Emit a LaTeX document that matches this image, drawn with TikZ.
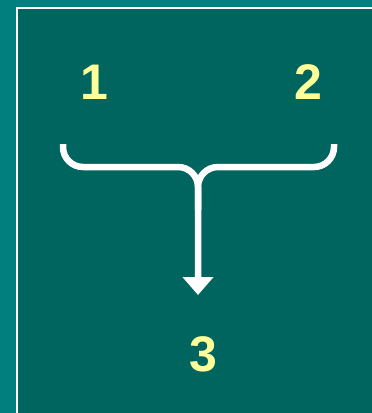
\documentclass[tikz,border=0pt]{standalone}
\usepackage{fontspec}
\setmainfont{Liberation Sans}
\usetikzlibrary{arrows.meta}
\definecolor{outerteal}{HTML}{007F7F}
\definecolor{innerteal}{HTML}{00645F}
\definecolor{numyellow}{HTML}{FFFF99}
\tikzset{
  num/.style={text=numyellow, font=\fontsize{50}{50}\selectfont\bfseries, inner sep=0pt, anchor=center},
  bracel/.style={draw=white, line width=6.5pt, rounded corners=20pt},
  tipped/.style={-{Triangle[length=18pt,width=30pt]}}
}
\begin{document}
\begin{tikzpicture}[x=1pt,y=-1pt]
\useasboundingbox (0,0) rectangle (372,413);
\fill[outerteal] (0,0) rectangle (372,413);
\fill[white] (16,7) rectangle (372,413);
\fill[innerteal] (18,9) rectangle (372,413);
\node[num] (n1) at (94,82) {1};
\node[num] (n2) at (308,82) {2};
\node[num] (n3) at (203,354) {3};
\coordinate (L) at (63,144);
\coordinate (R) at (334,144);
\coordinate (C) at (198,167);
\coordinate (S) at (198,210);
\coordinate (T) at (198,295);
\draw[bracel, tipped] (L) |- (C) -- (T);
\draw[bracel] (R) |- (C) -- (S);
\end{tikzpicture}
\end{document}
